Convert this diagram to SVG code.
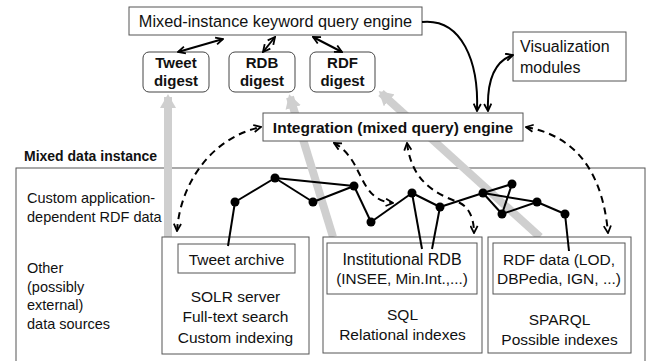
<svg xmlns="http://www.w3.org/2000/svg" width="653" height="361" viewBox="0 0 653 361">
<style>
  text { font-family: "Liberation Sans", Arial, sans-serif; fill: #111; }
  .t16 { font-size: 15.5px; }
  .t15 { font-size: 14.5px; }
  .b { font-weight: bold; }
  .dg { font-size: 15px; font-weight: bold; }
  .box { fill: #fff; stroke: #555; stroke-width: 1; }
  .rbox { fill: #fff; stroke: #444; stroke-width: 1; }
  .gray { fill: none; stroke: #cfcfcf; stroke-width: 8; }
  .solid { fill: none; stroke: #000; stroke-width: 2; }
  .dash { fill: none; stroke: #000; stroke-width: 2; stroke-dasharray: 7 5; }
  .edge { stroke: #000; stroke-width: 2; fill: none; }
  .node { fill: #000; }
</style>
<defs>
  <marker id="ah" viewBox="0 0 10 10" refX="9" refY="5" markerWidth="9" markerHeight="9" markerUnits="userSpaceOnUse" orient="auto-start-reverse">
    <path d="M1,1 L9,5 L1,9" fill="none" stroke="#000" stroke-width="2"/>
  </marker>
  <marker id="gh" viewBox="0 0 16 16" refX="11" refY="8" markerWidth="16" markerHeight="16" markerUnits="userSpaceOnUse" orient="auto">
    <path d="M0,0 L14,8 L0,16 Z" fill="#cfcfcf"/>
  </marker>
</defs>

<!-- outer container -->
<g id="mixed-data-instance">
  <rect x="16" y="168" width="629" height="200" fill="#fff" stroke="#555" stroke-width="1"/>
  <text x="24" y="161" font-size="14" class="b">Mixed data instance</text>
  <text x="27" y="203" class="t15">Custom application-</text>
  <text x="27" y="222" class="t15">dependent RDF data</text>
  <text x="27" y="273" class="t15">Other</text>
  <text x="27" y="292" class="t15">(possibly</text>
  <text x="27" y="310" class="t15">external)</text>
  <text x="27" y="329" class="t15">data sources</text>
</g>

<!-- gray thick arrows -->
<g id="gray-connectors">
  <line x1="168" y1="237" x2="168" y2="97" class="gray" marker-end="url(#gh)"/>
  <line x1="333" y1="237" x2="290" y2="97" class="gray" marker-end="url(#gh)"/>
  <line x1="540" y1="237" x2="381" y2="93" class="gray" marker-end="url(#gh)"/>
</g>

<g id="keyword-engine">
  <rect x="129" y="7" width="293" height="28" class="box"/>
  <text x="275.5" y="27" font-size="16.3" text-anchor="middle">Mixed-instance keyword query engine</text>
</g>

<g id="tweet-digest">
  <rect x="143" y="52" width="66" height="40" rx="6" class="rbox"/>
  <text x="176" y="68" class="dg" text-anchor="middle">Tweet</text>
  <text x="176" y="86" class="dg" text-anchor="middle">digest</text>
</g>
<g id="rdb-digest">
  <rect x="229" y="52" width="66" height="40" rx="6" class="rbox"/>
  <text x="262" y="68" class="dg" text-anchor="middle">RDB</text>
  <text x="262" y="86" class="dg" text-anchor="middle">digest</text>
</g>
<g id="rdf-digest">
  <rect x="310" y="52" width="65" height="40" rx="6" class="rbox"/>
  <text x="342.5" y="68" class="dg" text-anchor="middle">RDF</text>
  <text x="342.5" y="86" class="dg" text-anchor="middle">digest</text>
</g>

<g id="visualization">
  <rect x="513" y="32" width="113" height="49" class="box"/>
  <text x="520" y="52" font-size="16">Visualization</text>
  <text x="520" y="73" font-size="16">modules</text>
</g>

<g id="integration-engine">
  <rect x="263" y="113" width="260" height="28" class="box"/>
  <text x="393" y="133" class="t16 b" text-anchor="middle">Integration (mixed query) engine</text>
</g>

<g id="solr">
  <rect x="162" y="237" width="147" height="117" class="box"/>
  <rect x="178" y="244" width="117" height="29" class="box"/>
  <text x="236.5" y="265" class="t16" text-anchor="middle">Tweet archive</text>
  <text x="235.5" y="302" class="t16" text-anchor="middle">SOLR server</text>
  <text x="235.5" y="322" class="t16" text-anchor="middle">Full-text search</text>
  <text x="235.5" y="343" class="t16" text-anchor="middle">Custom indexing</text>
</g>

<g id="sql">
  <rect x="323" y="237" width="159" height="116" class="box"/>
  <rect x="327" y="243" width="150" height="51" class="box"/>
  <text x="402" y="265" font-size="16" text-anchor="middle">Institutional RDB</text>
  <text x="402" y="284" font-size="15.3" text-anchor="middle">(INSEE, Min.Int.,...)</text>
  <text x="402.5" y="320" class="t16" text-anchor="middle">SQL</text>
  <text x="402.5" y="340" class="t16" text-anchor="middle">Relational indexes</text>
</g>

<g id="sparql">
  <rect x="488" y="237" width="143" height="116" class="box"/>
  <rect x="493" y="243" width="132" height="51" class="box"/>
  <text x="559" y="265" class="t16" text-anchor="middle">RDF data (LOD,</text>
  <text x="559" y="284" class="t16" text-anchor="middle">DBPedia, IGN, ...)</text>
  <text x="559.5" y="325" class="t16" text-anchor="middle">SPARQL</text>
  <text x="559.5" y="345" class="t16" text-anchor="middle">Possible indexes</text>
</g>

<!-- RDF graph -->
<g id="rdf-graph">
  <g class="edge">
    <line x1="235" y1="202" x2="228" y2="246"/>
    <line x1="235" y1="202" x2="275" y2="178"/>
    <line x1="275" y1="178" x2="313" y2="202"/>
    <line x1="275" y1="178" x2="354" y2="186"/>
    <line x1="313" y1="202" x2="354" y2="186"/>
    <line x1="354" y1="186" x2="371" y2="222"/>
    <line x1="371" y1="222" x2="412" y2="193"/>
    <line x1="412" y1="193" x2="440" y2="207"/>
    <line x1="412" y1="193" x2="422" y2="249"/>
    <line x1="440" y1="207" x2="432" y2="249"/>
    <line x1="440" y1="207" x2="483" y2="193"/>
    <line x1="483" y1="193" x2="512" y2="184"/>
    <line x1="483" y1="193" x2="502" y2="214"/>
    <line x1="483" y1="193" x2="537" y2="202"/>
    <line x1="512" y1="184" x2="502" y2="214"/>
    <line x1="502" y1="214" x2="537" y2="202"/>
    <line x1="537" y1="202" x2="565" y2="214"/>
    <line x1="565" y1="214" x2="569" y2="251"/>
  </g>
  <g class="node">
    <circle cx="235" cy="202" r="4.5"/>
    <circle cx="275" cy="178" r="4.5"/>
    <circle cx="313" cy="202" r="4.5"/>
    <circle cx="354" cy="186" r="4.5"/>
    <circle cx="371" cy="222" r="4.5"/>
    <circle cx="412" cy="193" r="4.5"/>
    <circle cx="440" cy="207" r="4.5"/>
    <circle cx="483" cy="193" r="4.5"/>
    <circle cx="512" cy="184" r="4.5"/>
    <circle cx="502" cy="214" r="4.5"/>
    <circle cx="537" cy="202" r="4.5"/>
    <circle cx="565" cy="214" r="4.5"/>
  </g>
</g>

<!-- connectors -->
<g id="connectors">
  <line x1="178" y1="52" x2="223" y2="39" class="solid" stroke-width="1.8" marker-start="url(#ah)" marker-end="url(#ah)"/>
  <line x1="263" y1="52" x2="275" y2="37" class="solid" stroke-width="1.8" marker-start="url(#ah)" marker-end="url(#ah)"/>
  <line x1="313" y1="37" x2="342" y2="52" class="solid" stroke-width="1.8" marker-start="url(#ah)" marker-end="url(#ah)"/>
  <path d="M422,22 C462,18 479,62 477,111" class="solid" marker-end="url(#ah)"/>
  <path d="M513,55 C491,62 487,86 488,111" class="solid" marker-start="url(#ah)" marker-end="url(#ah)"/>
  <path d="M177,231 C180,185 210,138 261,127" class="dash" marker-start="url(#ah)" marker-end="url(#ah)"/>
  <path d="M334,143 C365,160 357,200 393,203" class="dash" marker-start="url(#ah)" marker-end="url(#ah)"/>
  <path d="M407,143 C412,185 440,195 460,203 C470,208 474,220 474,233" class="dash" marker-start="url(#ah)" marker-end="url(#ah)"/>
  <path d="M526,127 C570,135 602,165 608,233" class="dash" marker-start="url(#ah)" marker-end="url(#ah)"/>
</g>
</svg>
